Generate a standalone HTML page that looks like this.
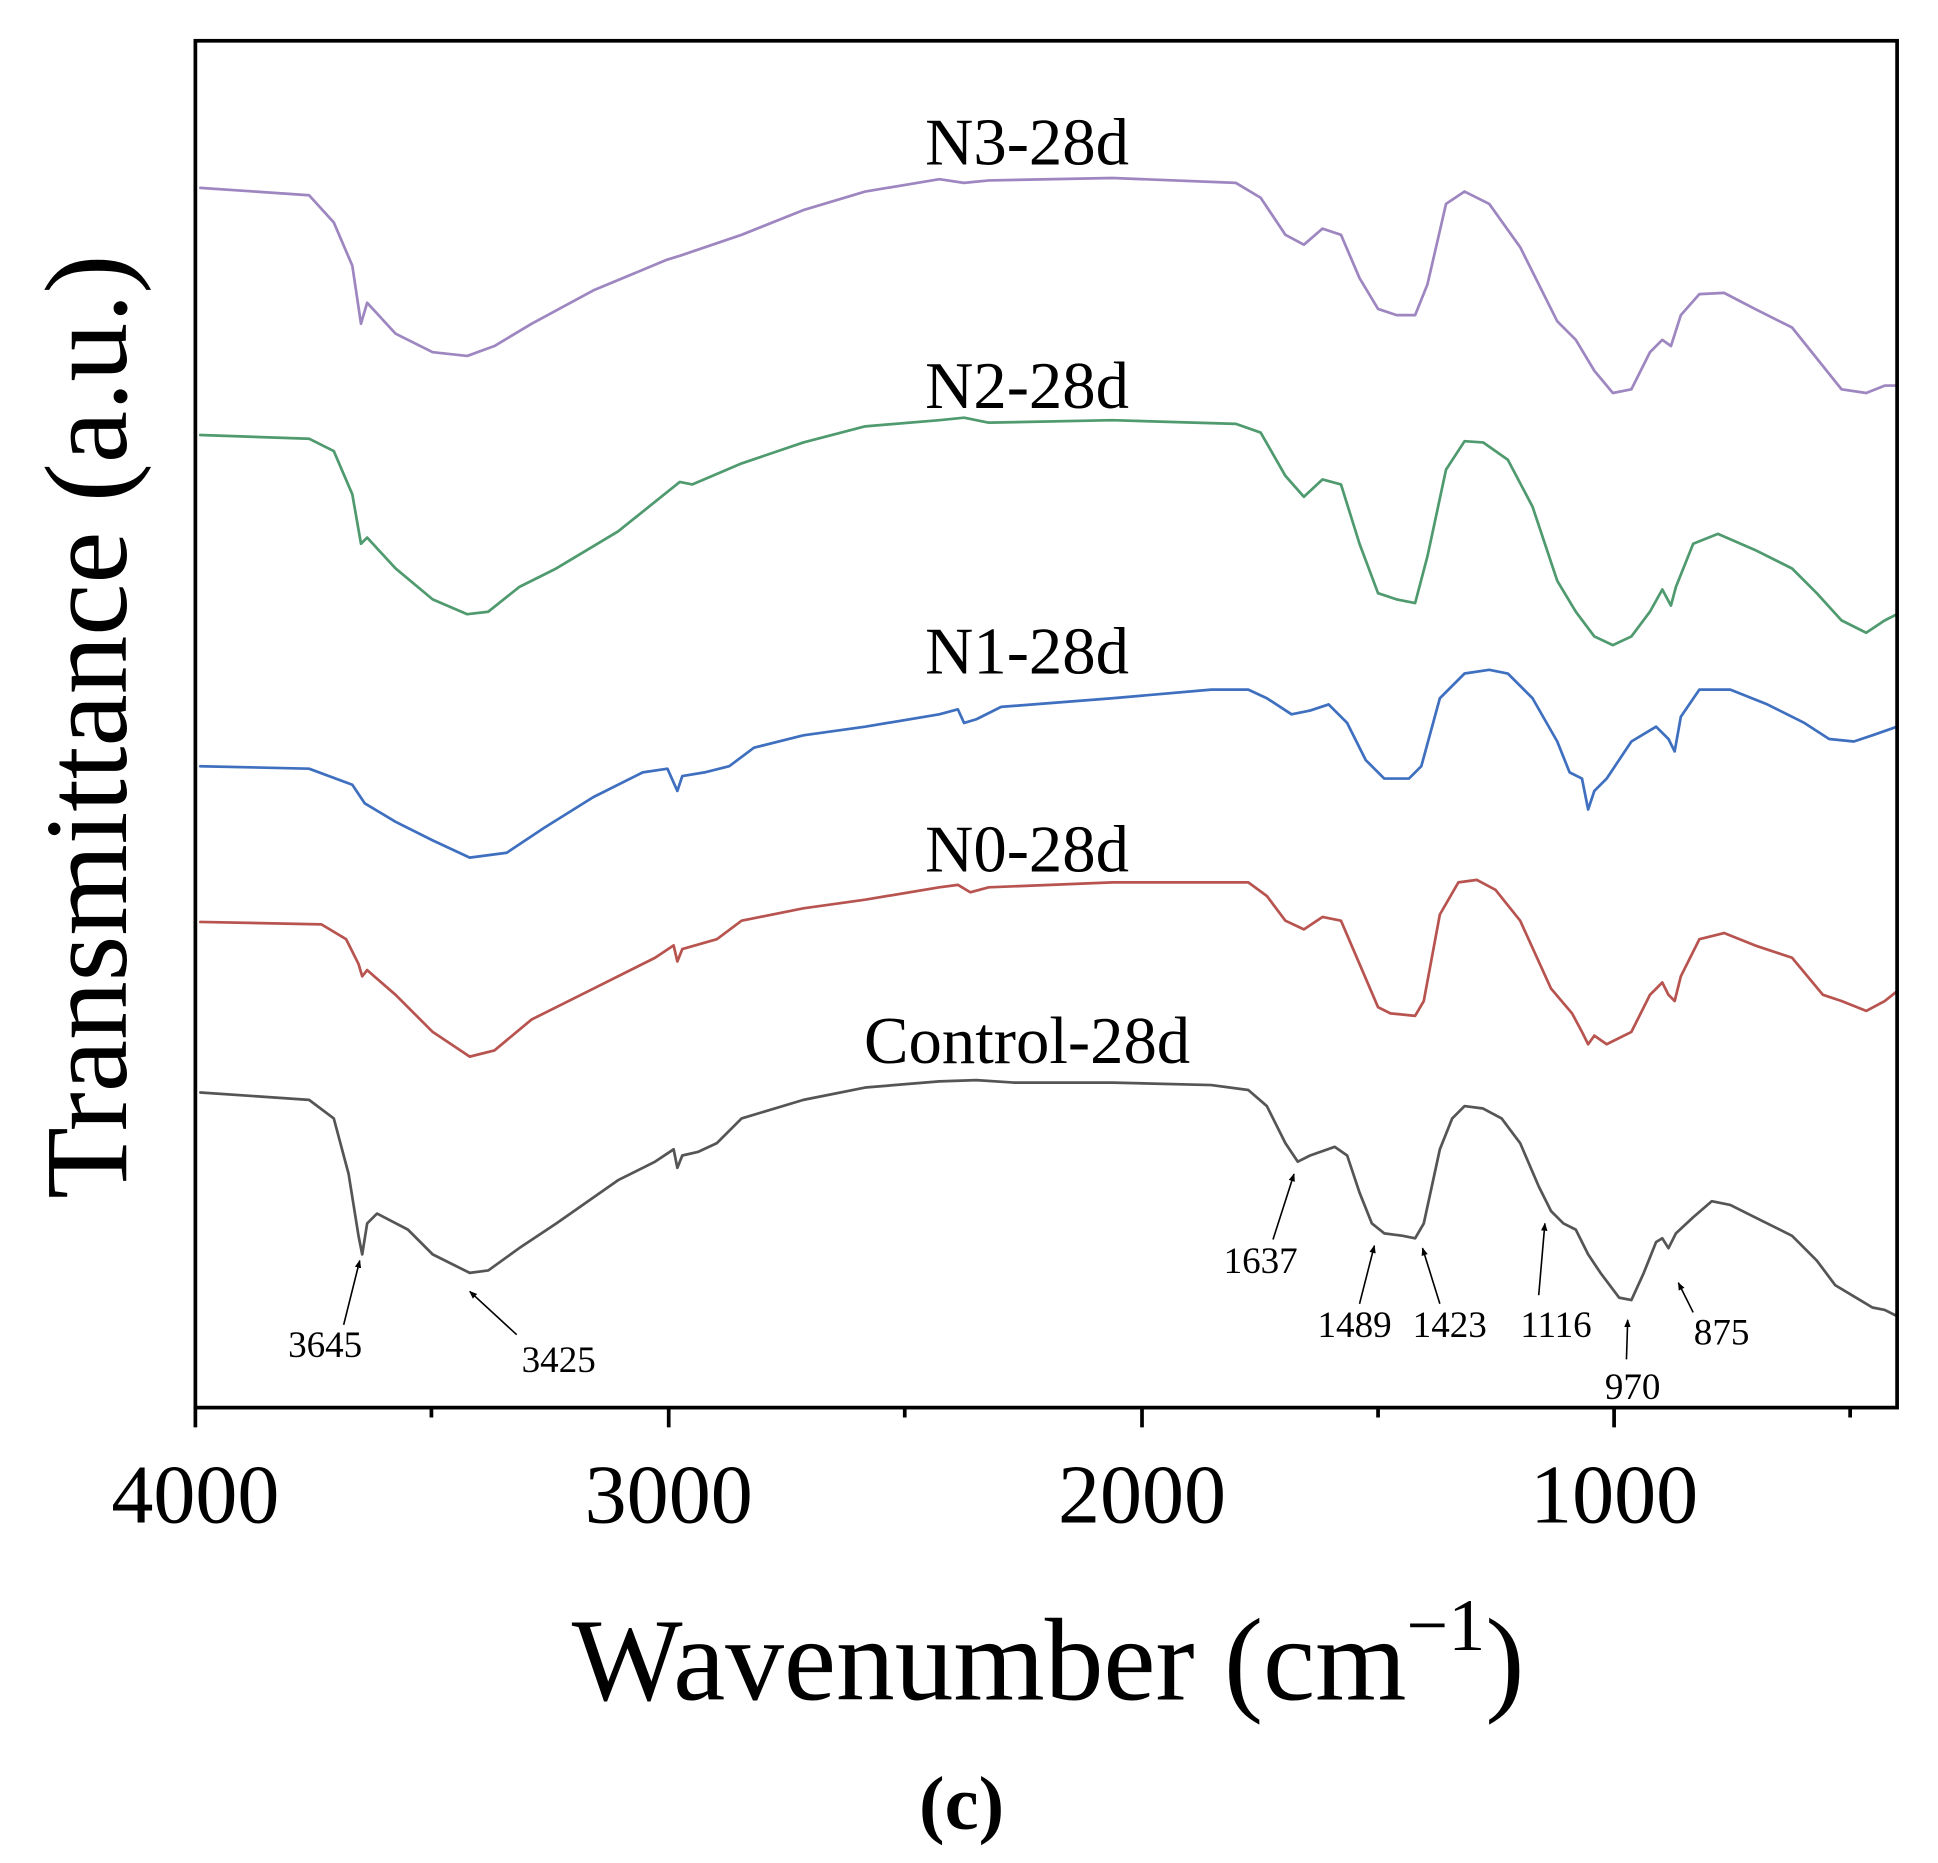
<!DOCTYPE html>
<html><head><meta charset="utf-8"><style>html,body{margin:0;padding:0;background:#fff}svg{display:block}</style></head>
<body>
<svg width="1938" height="1863" viewBox="0 0 1568 1507.5" xmlns="http://www.w3.org/2000/svg" font-family="Liberation Serif, serif">
<defs><marker id="ar" viewBox="0 0 10 10" refX="9" refY="5" markerWidth="5" markerHeight="5" orient="auto"><path d="M0,1 L10,5 L0,9 z" fill="#000"/></marker></defs>
<g fill="none" stroke-width="2.2" stroke-linejoin="round" stroke-linecap="round">
<polyline stroke="#9e86c0" points="162,152 250,158 270,180 285,215 292,262 297,245 320,270 350,285 378,288 400,280 430,262 480,235 540,210 550,207 600,190 650,170 700,155 760,145 780,148 800,146 900,144 1000,148 1020,160 1040,190 1055,198 1070,185 1085,190 1100,225 1115,250 1130,255 1145,255 1155,230 1170,165 1185,155 1205,165 1230,200 1260,260 1275,275 1290,300 1305,318 1320,315 1335,285 1345,275 1352,280 1360,255 1375,238 1395,237 1420,250 1450,265 1470,290 1490,315 1510,318 1525,312 1535,312"/>
<polyline stroke="#4f9a6e" points="162,352 250,355 270,365 285,400 292,440 297,435 320,460 350,485 378,497 395,495 420,475 450,460 500,430 540,398 550,390 560,392 600,375 650,358 700,345 760,340 780,338 800,342 900,340 1000,343 1020,350 1040,385 1055,402 1070,388 1085,392 1100,440 1115,480 1130,485 1145,488 1155,450 1170,380 1185,357 1200,358 1220,372 1240,410 1260,470 1275,495 1290,515 1305,522 1320,515 1335,495 1345,477 1352,490 1356,475 1370,440 1390,432 1420,445 1450,460 1470,480 1490,502 1510,512 1525,502 1535,497"/>
<polyline stroke="#3f6fbf" points="162,620 250,622 285,635 295,650 320,665 350,680 380,694 410,690 440,670 480,645 520,625 540,622 548,640 552,628 570,625 590,620 610,605 650,595 700,588 760,578 775,574 780,585 790,582 810,572 900,565 980,558 1010,558 1025,565 1045,578 1060,575 1075,570 1090,585 1105,615 1120,630 1140,630 1150,620 1165,565 1185,545 1205,542 1220,545 1240,565 1260,600 1270,625 1280,630 1285,655 1290,640 1300,630 1320,600 1340,588 1350,598 1355,608 1360,580 1375,558 1400,558 1430,570 1460,585 1480,598 1500,600 1515,595 1535,588"/>
<polyline stroke="#b85450" points="162,746 260,748 280,760 290,780 293,790 297,785 320,805 350,835 380,855 400,850 430,825 480,800 530,775 545,765 548,778 552,768 580,760 600,745 650,735 700,728 760,718 775,716 785,722 800,718 850,716 900,714 1010,714 1025,725 1040,745 1055,752 1070,742 1085,745 1100,780 1115,815 1125,820 1145,822 1152,810 1165,740 1180,714 1195,712 1210,720 1230,745 1255,800 1272,820 1280,835 1285,845 1290,838 1300,845 1320,835 1335,805 1345,795 1350,805 1355,810 1360,790 1375,760 1395,755 1420,765 1450,775 1475,805 1490,810 1510,818 1525,810 1535,802"/>
<polyline stroke="#555" points="162,884 250,890 270,905 282,950 290,1000 293,1015 297,990 305,982 330,995 350,1015 380,1030 395,1028 420,1010 450,990 500,955 530,940 545,930 548,945 552,935 565,932 580,925 600,905 650,890 700,880 760,875 790,874 820,876 900,876 980,878 1010,882 1025,895 1040,925 1050,940 1060,935 1080,928 1090,935 1100,965 1110,990 1120,998 1135,1000 1145,1002 1152,990 1165,930 1175,905 1185,895 1200,897 1215,905 1230,925 1245,960 1255,980 1265,990 1275,995 1280,1005 1285,1015 1295,1030 1310,1050 1320,1052 1330,1030 1340,1005 1345,1002 1350,1010 1356,998 1370,985 1385,972 1400,975 1420,985 1450,1000 1470,1020 1485,1040 1505,1052 1515,1058 1525,1060 1535,1065"/>
</g>
<rect x="158" y="33" width="1377" height="1106" fill="none" stroke="#000" stroke-width="3"/>
<g stroke="#000" stroke-width="3">
<line x1="158" y1="1139" x2="158" y2="1155"/><line x1="541" y1="1139" x2="541" y2="1155"/><line x1="924" y1="1139" x2="924" y2="1155"/><line x1="1306" y1="1139" x2="1306" y2="1155"/>
<line x1="349" y1="1139" x2="349" y2="1147"/><line x1="732" y1="1139" x2="732" y2="1147"/><line x1="1115" y1="1139" x2="1115" y2="1147"/><line x1="1497" y1="1139" x2="1497" y2="1147"/>
</g>
<g font-size="68" text-anchor="middle">
<text x="158" y="1232">4000</text><text x="541" y="1232">3000</text><text x="924" y="1232">2000</text><text x="1306" y="1232">1000</text>
</g>
<text x="848" y="1375" font-size="95" text-anchor="middle">Wavenumber (cm<tspan dy="-40" font-size="60">−1</tspan><tspan dy="40">)</tspan></text>
<text transform="translate(102,588) rotate(-90)" font-size="95" text-anchor="middle">Transmittance (a.u.)</text>
<text x="778" y="1480" font-size="62" font-weight="bold" text-anchor="middle">(c)</text>
<g font-size="54" text-anchor="middle">
<text x="831" y="133">N3-28d</text><text x="831" y="330">N2-28d</text><text x="831" y="545">N1-28d</text><text x="831" y="705">N0-28d</text><text x="831" y="860">Control-28d</text>
</g>
<g font-size="30" text-anchor="middle">
<text x="263" y="1098">3645</text><text x="452" y="1110">3425</text><text x="1020" y="1030">1637</text><text x="1096" y="1082">1489</text><text x="1173" y="1082">1423</text><text x="1259" y="1082">1116</text><text x="1321" y="1132">970</text><text x="1393" y="1088">875</text>
</g>
<g stroke="#000" stroke-width="1.3" marker-end="url(#ar)">
<line x1="278" y1="1072" x2="291" y2="1020"/><line x1="418" y1="1080" x2="380" y2="1045"/><line x1="1030" y1="1003" x2="1047" y2="950"/><line x1="1100" y1="1055" x2="1112" y2="1008"/><line x1="1165" y1="1055" x2="1151" y2="1010"/><line x1="1245" y1="1048" x2="1250" y2="990"/><line x1="1316" y1="1100" x2="1317" y2="1068"/><line x1="1370" y1="1062" x2="1358" y2="1038"/>
</g>
</svg>
</body></html>
